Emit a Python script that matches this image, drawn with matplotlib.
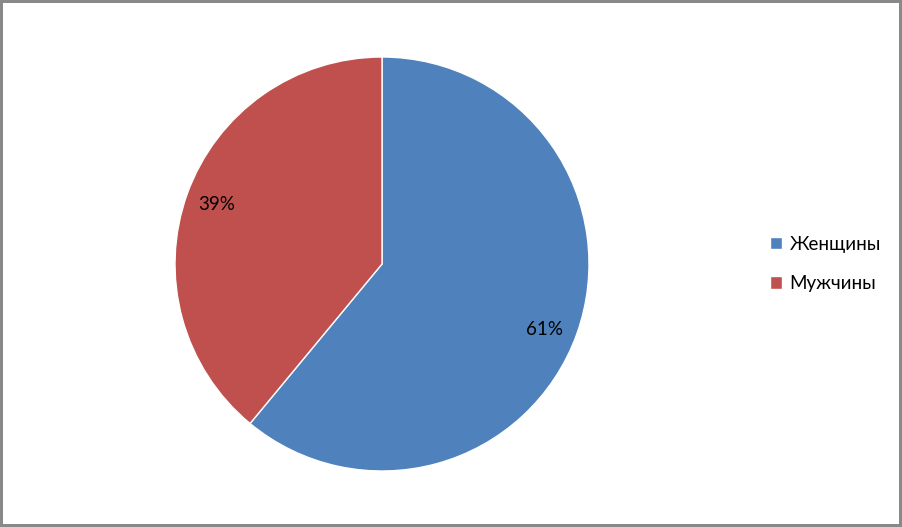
import matplotlib.pyplot as plt

# chart data
labels = ["Женщины", "Мужчины"]
shares = [61, 39]
colors = ["#4F81BD", "#C0504D"]

plt.rcParams['font.family'] = ['Lato', 'DejaVu Sans']

W, H = 902, 527
fig = plt.figure(figsize=(W / 100, H / 100), dpi=100)
fig.patch.set_edgecolor('#898989')
fig.patch.set_linewidth(3)

# pie centred at (382, 264) px, radius 207 px
cx, cy, r = 382, 264, 207
ax = fig.add_axes([(cx - r) / W, (H - cy - r) / H, 2 * r / W, 2 * r / H])

wedges, _, autotexts = ax.pie(shares, colors=colors, startangle=90, counterclock=False,
                              autopct='%1.0f%%', pctdistance=0.85,
                              wedgeprops=dict(edgecolor='white', linewidth=1))
for t in autotexts:
    t.set_fontsize(13.5)
    t.set_color('black')
# the 61% label sits a little lower in the original
x, y = autotexts[0].get_position()
autotexts[0].set_position((x - 0.015, y - 0.03))
ax.set_xlim(-1, 1)
ax.set_ylim(-1, 1)
ax.set_aspect('equal')

fig.legend(wedges, labels, loc='center left', bbox_to_anchor=(753 / W, 1 - 264 / H),
           frameon=False, fontsize=13.5, handlelength=0.65, handleheight=0.65,
           handletextpad=0.4, labelspacing=1.2)

fig.savefig('out.png', dpi=100)
